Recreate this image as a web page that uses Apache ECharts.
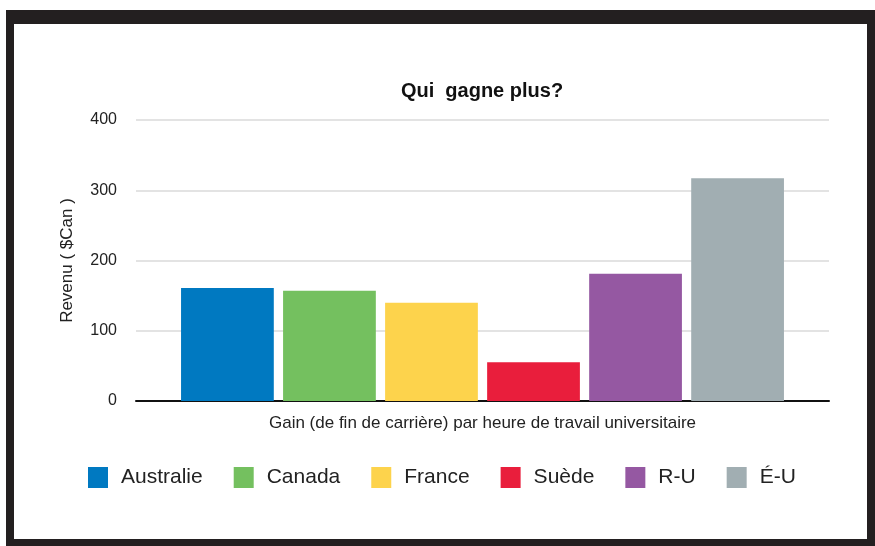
<!DOCTYPE html>
<html>
<head>
<meta charset="utf-8">
<script src="https://cdn.jsdelivr.net/npm/echarts@6/dist/echarts.min.js"></script>
<style>
  html, body { margin: 0; padding: 0; background: #fff; }
  #chart { width: 875px; height: 546px; position: absolute; left: 0; top: 0; }
  .frame {
    position: absolute;
    left: 6px; top: 10px;
    width: 853px; height: 515px;
    border-style: solid;
    border-color: #231f20;
    border-width: 14px 8px 7px 8px;
    pointer-events: none;
  }
</style>
</head>
<body>
<div id="chart"></div>
<div class="frame"></div>
<script>
// données
const categories = ['Gain (de fin de carrière) par heure de travail universitaire']
const countries = ['Australie', 'Canada', 'France', 'Suède', 'R-U', 'É-U']
const revenus = [161, 157, 140, 55, 181, 317]
const colors = ['#0079c1', '#74c05f', '#fdd34c', '#e91e3c', '#9558a2', '#a1aeb2']

const chart = echarts.init(document.getElementById('chart'))

const series = countries.map((name, i) => ({
  name: name,
  type: 'bar',
  data: [revenus[i]],
  barGap: '10%',
  barCategoryGap: '13%',
  itemStyle: { color: colors[i] },
}))

chart.setOption({
  backgroundColor: '#fff',
  animation: false,
  title: {
    text: 'Qui  gagne plus?',
    left: 477,
    textAlign: 'center',
    top: 76,
    textStyle: {
      fontFamily: 'Liberation Sans',
      fontSize: 20,
      fontWeight: 'bold',
      color: '#111',
    },
  },
  grid: {
    left: 136,
    right: 46,
    top: 120,
    bottom: 145,
  },
  legend: {
    data: countries,
    left: 83,
    top: 462,
    itemWidth: 20,
    itemHeight: 21,
    itemGap: 31,
    icon: 'rect',
    textStyle: {
      fontFamily: 'Liberation Sans',
      fontSize: 21,
      color: '#222',
      padding: [0, 0, 0, 8],
    },
  },
  xAxis: {
    type: 'category',
    data: categories,
    axisLine: { lineStyle: { color: '#111', width: 2 } },
    axisTick: { show: false },
    axisLabel: {
      margin: 14,
      fontFamily: 'Liberation Sans',
      fontSize: 17,
      color: '#222',
    },
  },
  yAxis: {
    type: 'value',
    min: 0,
    max: 400,
    interval: 100,
    name: 'Revenu ( $Can )',
    nameLocation: 'middle',
    nameGap: 60,
    nameTextStyle: {
      fontFamily: 'Liberation Sans',
      fontSize: 17,
      color: '#222',
    },
    axisLine: { show: false },
    axisTick: { show: false },
    axisLabel: {
      margin: 19,
      fontFamily: 'Liberation Sans',
      fontSize: 16,
      color: '#222',
    },
    splitLine: { lineStyle: { color: '#e3e3e3', width: 2 } },
  },
  series: series,
})
</script>
</body>
</html>
